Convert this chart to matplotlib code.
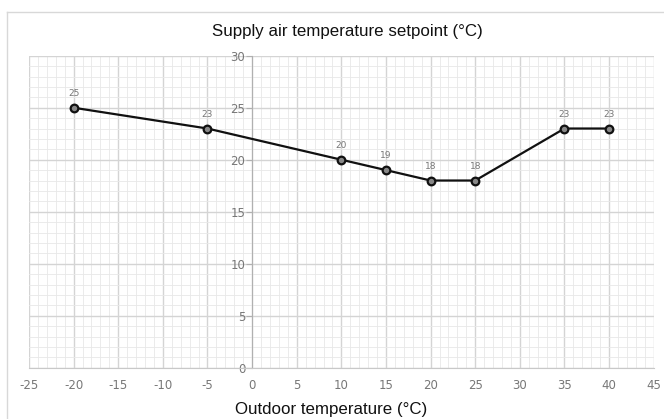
import matplotlib
matplotlib.use('Agg')
import matplotlib.pyplot as plt
from matplotlib.ticker import MultipleLocator
from matplotlib.lines import Line2D

plt.rcParams['axes.unicode_minus'] = False

# Heating/cooling curve: outdoor temperature vs supply air setpoint
outdoor_temp = [-20, -5, 10, 15, 20, 25, 35, 40]
supply_setpoint = [25, 23, 20, 19, 18, 18, 23, 23]

fig = plt.figure(figsize=(6.64, 4.19), dpi=100)
ax = fig.add_axes([0.0437, 0.1224, 0.9408, 0.7446])

ax.plot(outdoor_temp, supply_setpoint, color='#111111', linewidth=1.6,
        marker='o', markersize=5.5, markerfacecolor='#888888',
        markeredgecolor='#111111', markeredgewidth=1.6, zorder=5)

for x, y in zip(outdoor_temp, supply_setpoint):
    ax.annotate(f'{y}', (x, y), xytext=(0, 7), textcoords='offset points',
                ha='center', va='bottom', fontsize=6.5, color='#777777')

ax.set_xlim(-25, 45)
ax.set_ylim(0, 30)
ax.xaxis.set_major_locator(MultipleLocator(5))
ax.yaxis.set_major_locator(MultipleLocator(5))
ax.xaxis.set_minor_locator(MultipleLocator(1))
ax.yaxis.set_minor_locator(MultipleLocator(1))

ax.grid(which='major', color='#d4d4d4', linewidth=1.0)
ax.grid(which='minor', color='#e8e8e8', linewidth=0.6)
ax.set_axisbelow(True)

# y axis sits on x = 0
ax.spines['left'].set_position(('data', 0))
ax.spines['left'].set_color('#b0b0b0')
ax.spines['bottom'].set_color('#c8c8c8')
ax.spines['top'].set_visible(False)
ax.spines['right'].set_visible(False)

ax.tick_params(axis='y', which='major', length=4, color='#b0b0b0',
               labelsize=8.5, labelcolor='#777777', pad=1)
ax.tick_params(axis='x', which='major', length=0, labelsize=8.5,
               labelcolor='#777777', pad=8)
ax.tick_params(which='minor', length=0)

fig.text(0.523, 0.924, 'Supply air temperature setpoint (°C)', ha='center',
         va='center', fontsize=12.2, family='Liberation Sans', color='#111111')
fig.text(0.4985, 0.022, 'Outdoor temperature (°C)', ha='center',
         va='center', fontsize=12.2, family='Liberation Sans', color='#111111')

# light outer frame (left and top edges)
fig.add_artist(Line2D([0.0105, 0.0105], [0.0, 0.971], color='#d8d8d8',
                      linewidth=1.0, transform=fig.transFigure))
fig.add_artist(Line2D([0.0105, 1.0], [0.971, 0.971], color='#d8d8d8',
                      linewidth=1.0, transform=fig.transFigure))

fig.savefig('out.png', dpi=100)
